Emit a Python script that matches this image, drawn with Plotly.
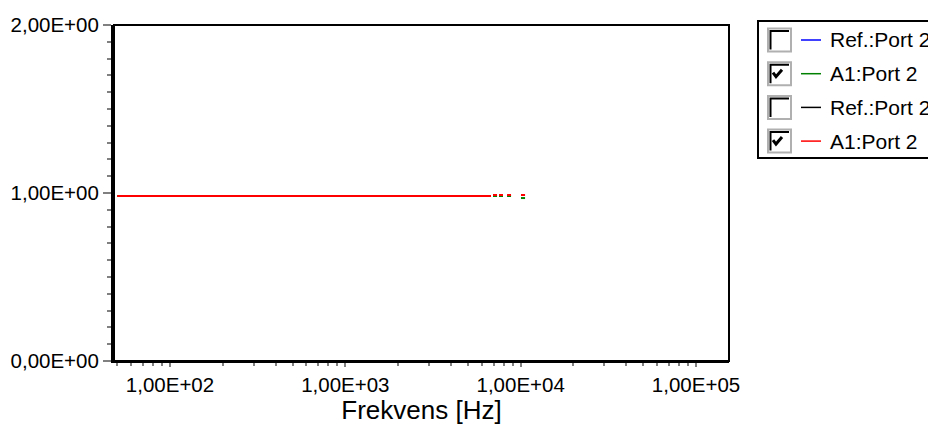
import plotly.graph_objects as go

# Measured transfer magnitude, port 2 (A1), two overlaid channels.
# None separates the short, broken segments at the upper end of the sweep.
freq_hz = [50, 6770, None, 6950, 7330, None, 7520, 7930, None, 8360, 8810, None, 10040, 10590]
green_vals = [0.982, 0.982, None, 0.982, 0.982, None, 0.982, 0.982, None, 0.982, 0.982, None, 0.970, 0.970]
red_vals = [0.982, 0.982, None, 0.988, 0.988, None, 0.988, 0.988, None, 0.988, 0.988, None, 0.988, 0.988]

y_tickvals = [0, 1, 2]
y_ticktext = ["0,00E+00", "1,00E+00", "2,00E+00"]
x_tickvals = [1e2, 1e3, 1e4, 1e5]
x_ticktext = ["1,00E+02", "1,00E+03", "1,00E+04", "1,00E+05"]
x_minor = [m * 10 ** d for d in range(1, 6) for m in range(2, 10)]

legend_labels = ["Ref.:Port 2", "A1:Port 2", "Ref.:Port 2", "A1:Port 2"]
legend_colors = ["#0000ff", "#008000", "#000000", "#ff0000"]
legend_checked = [False, True, False, True]

W, H = 928, 425
L, R, T, B = 114, 729, 25, 361  # plot area in pixels
FONT = "Liberation Sans, Arial, sans-serif"

fig = go.Figure()
fig.add_trace(go.Scatter(x=freq_hz, y=green_vals, mode="lines",
                         line=dict(color="#008000", width=2), connectgaps=False,
                         hoverinfo="skip"))
fig.add_trace(go.Scatter(x=freq_hz, y=red_vals, mode="lines",
                         line=dict(color="#ff0000", width=2), connectgaps=False,
                         hoverinfo="skip"))


def px(x):
    return (x - L) / (R - L)


def py(y):
    return (B - y) / (B - T)


shapes = []
annotations = []

# frame around the plot area (the left axis line is drawn thicker by the axis itself)
shapes.append(dict(type="rect", xref="paper", yref="paper",
                   x0=0, x1=1, y0=0, y1=1, line=dict(color="black", width=2),
                   layer="above"))

# legend box with checkboxes
shapes.append(dict(type="rect", xref="paper", yref="paper",
                   x0=px(758), x1=px(990), y0=py(158), y1=py(21),
                   line=dict(color="black", width=2), fillcolor="white"))
row0, dy = 40, 33.7
for i, (lab, col, chk) in enumerate(zip(legend_labels, legend_colors, legend_checked)):
    cy = row0 + i * dy
    bx0, bx1 = 768, 791
    by0, by1 = cy - 11.5, cy + 11.5
    shapes.append(dict(type="rect", xref="paper", yref="paper",
                       x0=px(bx0), x1=px(bx1), y0=py(by1), y1=py(by0),
                       line=dict(color="#b0b0b0", width=2), fillcolor="white"))
    shapes.append(dict(type="path", xref="paper", yref="paper",
                       path=f"M {px(bx0 + 2.5)} {py(by1 - 2)} L {px(bx0 + 2.5)} {py(by0 + 2.5)} L {px(bx1 - 2)} {py(by0 + 2.5)}",
                       line=dict(color="black", width=2)))
    if chk:
        shapes.append(dict(type="path", xref="paper", yref="paper",
                           path=f"M {px(773)} {py(cy - 1)} L {px(776)} {py(cy + 3)} L {px(782)} {py(cy - 4)}",
                           line=dict(color="black", width=3)))
    shapes.append(dict(type="line", xref="paper", yref="paper",
                       x0=px(801), x1=px(821), y0=py(cy), y1=py(cy),
                       line=dict(color=col, width=1.5)))
    annotations.append(dict(xref="paper", yref="paper", x=px(828), y=py(cy),
                            text=lab, showarrow=False, xanchor="left", yanchor="middle",
                            font=dict(family=FONT, size=21, color="black")))

fig.update_layout(
    width=W, height=H,
    margin=dict(l=L, r=W - R, t=T, b=H - B, pad=0),
    paper_bgcolor="white", plot_bgcolor="white",
    showlegend=False,
    font=dict(family=FONT, size=20.5, color="black"),
    shapes=shapes, annotations=annotations,
    xaxis=dict(
        type="log", range=[1.6806, 5.188], automargin=False,
        tickmode="array", tickvals=x_tickvals, ticktext=x_ticktext,
        ticks="outside", ticklen=4, tickwidth=2, tickcolor="#808080",
        minor=dict(tickmode="array", tickvals=x_minor, ticks="outside",
                   ticklen=3, tickwidth=2, tickcolor="#808080", showgrid=False),
        showgrid=False, zeroline=False,
        showline=True, linecolor="black", linewidth=2,
        tickfont=dict(family=FONT, size=20.5, color="black"),
        title=dict(text="Frekvens [Hz]", font=dict(family=FONT, size=26, color="black"),
                   standoff=6),
    ),
    yaxis=dict(
        range=[0, 2], automargin=False,
        tickmode="array", tickvals=y_tickvals, ticktext=y_ticktext,
        ticks="outside", ticklen=8, tickwidth=2, tickcolor="#808080",
        minor=dict(dtick=0.1, ticks="outside", ticklen=4, tickwidth=2,
                   tickcolor="#808080", showgrid=False),
        showgrid=False, zeroline=False,
        showline=True, linecolor="black", linewidth=3,
        tickfont=dict(family=FONT, size=20.5, color="black"),
    ),
)

fig.write_html("out.html")
